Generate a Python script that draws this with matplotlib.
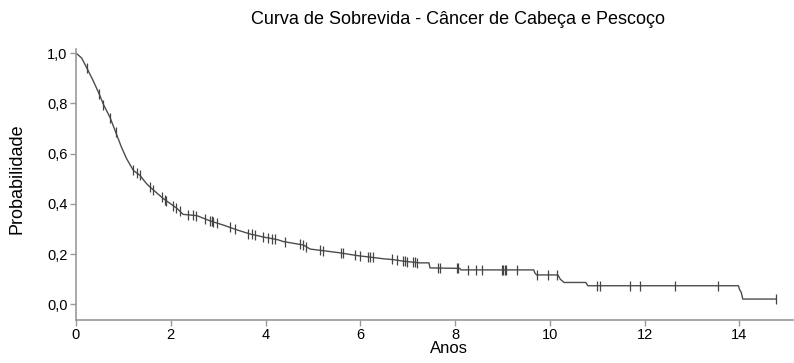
import numpy as np
import matplotlib.pyplot as plt

tempo = [0, 0.12, 0.23, 0.37, 0.49, 0.58, 0.72, 0.84, 0.96, 1.07, 1.21, 1.35, 1.49, 1.56,
         1.84, 2.13, 2.26, 2.55, 2.83, 3.1, 3.4, 3.67, 3.95, 4.26, 4.37, 4.8, 4.94, 5.15,
         5.57, 5.93, 6.2, 6.5, 6.69, 6.9, 7.25, 7.45, 7.47, 8.1, 8.12, 9.66, 9.68, 9.72,
         10.17, 10.22, 10.3, 10.76, 10.8, 13.98, 14.0, 14.04, 14.07, 14.77]
sobrev = [1.0, 0.98, 0.94, 0.887, 0.837, 0.795, 0.743, 0.684, 0.625, 0.579, 0.533, 0.513, 0.48, 0.467,
          0.421, 0.382, 0.358, 0.353, 0.332, 0.316, 0.296, 0.28, 0.268, 0.257, 0.25, 0.236, 0.22, 0.215,
          0.205, 0.194, 0.188, 0.181, 0.178, 0.172, 0.165, 0.165, 0.145, 0.143, 0.137, 0.137, 0.126, 0.117,
          0.117, 0.1, 0.087, 0.087, 0.074, 0.074, 0.06, 0.047, 0.021, 0.021]

# tempos censurados (marcas verticais)
censura = [0.23, 0.49, 0.58, 0.72, 0.84, 1.21, 1.28, 1.35, 1.56, 1.63, 1.81, 1.88, 1.91, 2.05,
           2.12, 2.19, 2.37, 2.47, 2.54, 2.72, 2.83, 2.86, 2.9, 2.97, 3.25, 3.36, 3.64, 3.71,
           3.78, 3.95, 4.06, 4.13, 4.2, 4.41, 4.73, 4.79, 4.86, 5.15, 5.22, 5.6, 5.64, 5.89,
           5.99, 6.17, 6.2, 6.27, 6.66, 6.77, 6.91, 6.94, 6.98, 7.12, 7.15, 7.19, 7.64, 7.68,
           8.03, 8.07, 8.28, 8.45, 8.56, 8.98, 9.01, 9.05, 9.08, 9.3, 9.72, 9.97, 10.15, 10.99,
           11.05, 11.69, 11.9, 12.64, 13.54, 14.77]

xticks = [0, 2, 4, 6, 8, 10, 12, 14]
yticks = [0.0, 0.2, 0.4, 0.6, 0.8, 1.0]

plt.rcParams['font.family'] = ['Liberation Sans', 'DejaVu Sans']

fig = plt.figure(figsize=(7.94, 3.63), dpi=100)
ax = fig.add_axes([0.0957, 0.118, 0.903, 0.747])

ax.plot(tempo, sobrev, color='#4d4d4d', lw=1.0)
cy = np.interp(censura, tempo, sobrev)
ax.plot(censura, cy, ls='none', marker='|', ms=6.5, mew=0.9, color='#444444')

ax.set_xlim(0, 15.13)
ax.set_ylim(-0.063, 1.016)
ax.set_xticks(xticks)
ax.set_yticks(yticks)
ax.set_yticklabels([("%.1f" % v).replace('.', ',') for v in yticks])

for s in ['top', 'right']:
    ax.spines[s].set_visible(False)
for s in ['left', 'bottom']:
    ax.spines[s].set_color('#999999')
    ax.spines[s].set_linewidth(1.2)
ax.tick_params(direction='out', length=4, width=1, color='#999999', labelsize=10.5, pad=2)

ax.set_xlabel("Anos", fontsize=12)
ax.xaxis.set_label_coords(0.52, -0.078)
ax.set_ylabel("Probabilidade", fontsize=13)
ax.yaxis.set_label_coords(-0.07, 0.52)

fig.text(0.577, 0.945, "Curva de Sobrevida - Câncer de Cabeça e Pescoço", fontsize=13, ha='center', va='center')

fig.savefig("out.png", dpi=100)
